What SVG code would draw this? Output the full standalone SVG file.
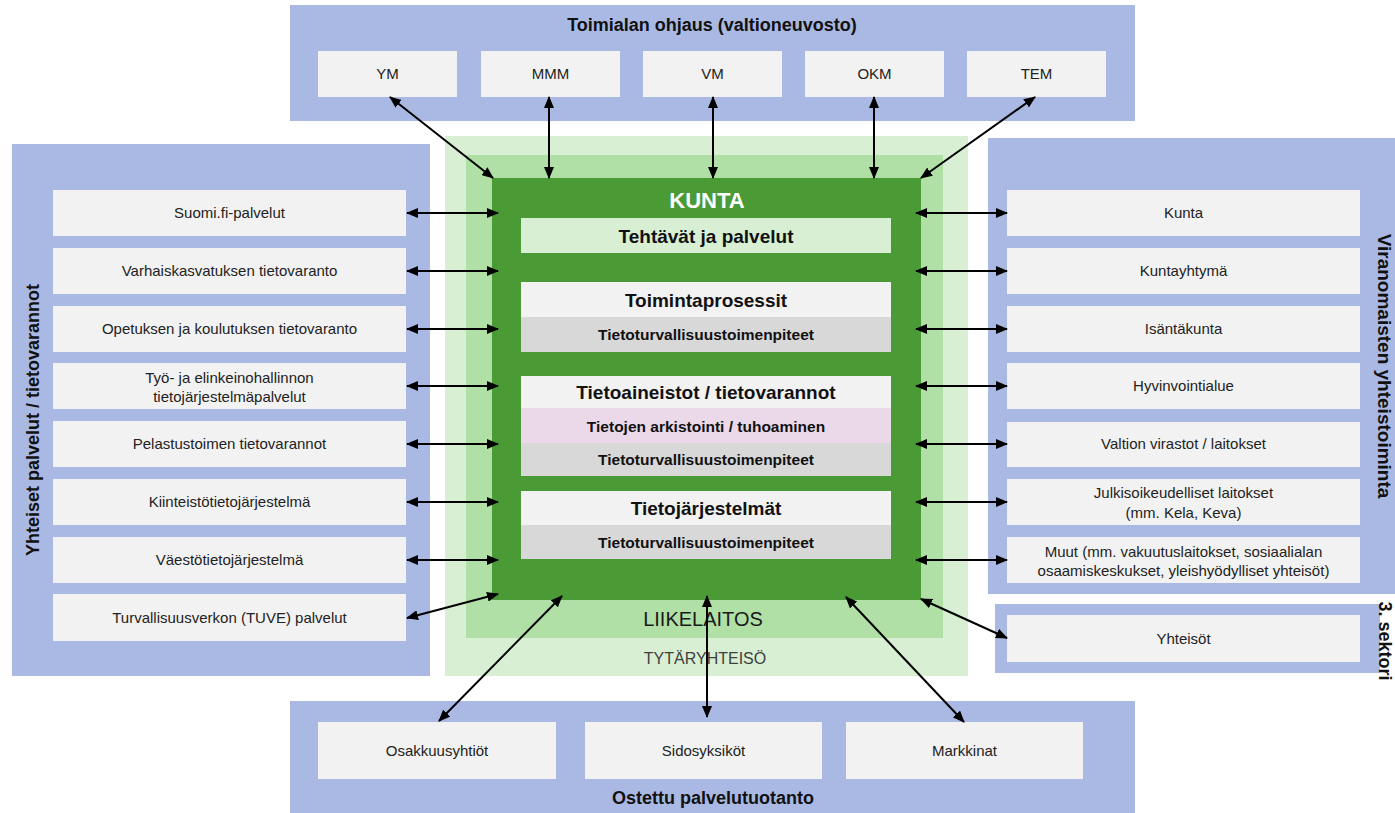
<svg xmlns="http://www.w3.org/2000/svg" width="1395" height="813" viewBox="0 0 1395 813">
<style>
.panel{fill:#AAB9E3}
.box{fill:#F2F2F2}
.t{font-family:"Liberation Sans",Arial,sans-serif;font-size:15px;fill:#222;text-anchor:middle}
.h{font-family:"Liberation Sans",Arial,sans-serif;font-size:18px;font-weight:bold;fill:#111;text-anchor:middle}
.b{font-family:"Liberation Sans",Arial,sans-serif;font-weight:bold;fill:#111;text-anchor:middle}
.arr{stroke:#000;stroke-width:2;fill:none;marker-start:url(#ah);marker-end:url(#ah)}
</style>
<defs>
<marker id="ah" viewBox="0 0 12 10" refX="11" refY="5" markerWidth="12" markerHeight="10" markerUnits="userSpaceOnUse" orient="auto-start-reverse">
<path d="M0,0 L12,5 L0,10 z" fill="#000"/>
</marker>
</defs>
<rect width="1395" height="813" fill="#fff"/>

<g id="toimialan-ohjaus">
<rect class="panel" x="290" y="5" width="845" height="116"/>
<text class="h" x="712" y="31">Toimialan ohjaus (valtioneuvosto)</text>
<g id="ym"><rect class="box" x="318" y="51" width="139" height="46"/><text class="t" x="387.5" y="79">YM</text></g>
<g id="mmm"><rect class="box" x="481" y="51" width="139" height="46"/><text class="t" x="550.5" y="79">MMM</text></g>
<g id="vm"><rect class="box" x="643" y="51" width="139" height="46"/><text class="t" x="712.5" y="79">VM</text></g>
<g id="okm"><rect class="box" x="805" y="51" width="139" height="46"/><text class="t" x="874.5" y="79">OKM</text></g>
<g id="tem"><rect class="box" x="967" y="51" width="139" height="46"/><text class="t" x="1036.5" y="79">TEM</text></g>
</g>

<g id="yhteiset-palvelut">
<rect class="panel" x="12" y="144" width="418" height="532"/>
<text class="b" font-size="18" transform="translate(39,420) rotate(-90)">Yhteiset palvelut / tietovarannot</text>
<g id="suomifi"><rect class="box" x="53" y="190" width="353" height="46"/><text class="t" x="229.5" y="218">Suomi.fi-palvelut</text></g>
<g id="varhais"><rect class="box" x="53" y="248" width="353" height="46"/><text class="t" x="229.5" y="276">Varhaiskasvatuksen tietovaranto</text></g>
<g id="opetus"><rect class="box" x="53" y="306" width="353" height="46"/><text class="t" x="229.5" y="334">Opetuksen ja koulutuksen tietovaranto</text></g>
<g id="tyo"><rect class="box" x="53" y="363" width="353" height="46"/><text class="t" x="229.5" y="383">Työ- ja elinkeinohallinnon</text><text class="t" x="229.5" y="402">tietojärjestelmäpalvelut</text></g>
<g id="pelastus"><rect class="box" x="53" y="421" width="353" height="46"/><text class="t" x="229.5" y="449">Pelastustoimen tietovarannot</text></g>
<g id="kiinteisto"><rect class="box" x="53" y="479" width="353" height="46"/><text class="t" x="229.5" y="507">Kiinteistötietojärjestelmä</text></g>
<g id="vaesto"><rect class="box" x="53" y="537" width="353" height="46"/><text class="t" x="229.5" y="565">Väestötietojärjestelmä</text></g>
<g id="tuve"><rect class="box" x="53" y="594" width="353" height="47"/><text class="t" x="229.5" y="623">Turvallisuusverkon (TUVE) palvelut</text></g>
</g>

<g id="viranomaiset">
<rect class="panel" x="988" y="138" width="407" height="456"/>
<text class="b" font-size="19" transform="translate(1378,366) rotate(90)">Viranomaisten yhteistoiminta</text>
<g id="kunta-r"><rect class="box" x="1007" y="190" width="353" height="46"/><text class="t" x="1183.5" y="218">Kunta</text></g>
<g id="kuntayhtyma"><rect class="box" x="1007" y="248" width="353" height="46"/><text class="t" x="1183.5" y="276">Kuntayhtymä</text></g>
<g id="isantakunta"><rect class="box" x="1007" y="306" width="353" height="46"/><text class="t" x="1183.5" y="334">Isäntäkunta</text></g>
<g id="hyvinvointialue"><rect class="box" x="1007" y="363" width="353" height="46"/><text class="t" x="1183.5" y="391">Hyvinvointialue</text></g>
<g id="valtion"><rect class="box" x="1007" y="422" width="353" height="45"/><text class="t" x="1183.5" y="449">Valtion virastot / laitokset</text></g>
<g id="julkis"><rect class="box" x="1007" y="479" width="353" height="46"/><text class="t" x="1183.5" y="498">Julkisoikeudelliset laitokset</text><text class="t" x="1183.5" y="518">(mm. Kela, Keva)</text></g>
<g id="muut"><rect class="box" x="1007" y="537" width="353" height="46"/><text class="t" x="1183.5" y="557">Muut (mm. vakuutuslaitokset, sosiaalialan</text><text class="t" x="1183.5" y="576">osaamiskeskukset, yleishyödylliset yhteisöt)</text></g>
</g>

<g id="kolmas-sektori">
<rect class="panel" x="995" y="604" width="385" height="69"/>
<text class="b" font-size="18" transform="translate(1379,641) rotate(90)">3. sektori</text>
<g id="yhteisot"><rect class="box" x="1007" y="615" width="353" height="47"/><text class="t" x="1183.5" y="644">Yhteisöt</text></g>
</g>

<g id="ostettu">
<rect class="panel" x="290" y="701" width="845" height="112"/>
<text class="h" x="713" y="804">Ostettu palvelutuotanto</text>
<g id="osakkuus"><rect class="box" x="318" y="722" width="238" height="57"/><text class="t" x="437" y="756">Osakkuusyhtiöt</text></g>
<g id="sidos"><rect class="box" x="585" y="722" width="237" height="57"/><text class="t" x="703.5" y="756">Sidosyksiköt</text></g>
<g id="markkinat"><rect class="box" x="846" y="722" width="237" height="57"/><text class="t" x="964.5" y="756">Markkinat</text></g>
</g>

<g id="tytaryhteiso">
<rect x="445" y="136" width="523" height="540" fill="#D8EFD3"/>
<text class="t" x="705" y="664" style="fill:#404040;font-size:16px">TYTÄRYHTEISÖ</text>
</g>
<g id="liikelaitos">
<rect x="466" y="155" width="477" height="483" fill="#B0E0A6"/>
<text class="t" x="703" y="626" style="font-size:20px;fill:#1a1a1a">LIIKELAITOS</text>
</g>
<g id="kunta">
<rect x="492" y="178" width="429" height="422" fill="#4A9A36"/>
<text class="b" x="707" y="208" font-size="22" style="fill:#fff">KUNTA</text>
<g id="tehtavat"><rect x="521" y="218" width="370" height="35" fill="#D8EFD3"/><text class="b" x="706" y="243" font-size="19">Tehtävät ja palvelut</text></g>
<g id="toimintaprosessit">
<rect x="521" y="282" width="370" height="35" fill="#F2F2F2"/>
<rect x="521" y="317" width="370" height="35" fill="#D8D8D8"/>
<text class="b" x="706" y="307" font-size="19">Toimintaprosessit</text>
<text class="b" x="706" y="340" font-size="15.5">Tietoturvallisuustoimenpiteet</text>
</g>
<g id="tietoaineistot">
<rect x="521" y="376" width="370" height="32" fill="#F2F2F2"/>
<rect x="521" y="408" width="370" height="35" fill="#EBD9EA"/>
<rect x="521" y="443" width="370" height="33" fill="#D8D8D8"/>
<text class="b" x="706" y="399" font-size="19">Tietoaineistot / tietovarannot</text>
<text class="b" x="706" y="432" font-size="15.5">Tietojen arkistointi / tuhoaminen</text>
<text class="b" x="706" y="465" font-size="15.5">Tietoturvallisuustoimenpiteet</text>
</g>
<g id="tietojarjestelmat">
<rect x="521" y="491" width="370" height="34" fill="#F2F2F2"/>
<rect x="521" y="525" width="370" height="34" fill="#D8D8D8"/>
<text class="b" x="706" y="515" font-size="19">Tietojärjestelmät</text>
<text class="b" x="706" y="548" font-size="15.5">Tietoturvallisuustoimenpiteet</text>
</g>
</g>

<g id="connectors">
<line class="arr" x1="390" y1="97" x2="493" y2="178"/>
<line class="arr" x1="549" y1="97" x2="549" y2="178"/>
<line class="arr" x1="713" y1="97" x2="713" y2="178"/>
<line class="arr" x1="874" y1="97" x2="874" y2="178"/>
<line class="arr" x1="1035" y1="97" x2="921" y2="178"/>
<line class="arr" x1="407" y1="213" x2="498" y2="213"/>
<line class="arr" x1="407" y1="271" x2="498" y2="271"/>
<line class="arr" x1="407" y1="329" x2="498" y2="329"/>
<line class="arr" x1="407" y1="386" x2="498" y2="386"/>
<line class="arr" x1="407" y1="444" x2="498" y2="444"/>
<line class="arr" x1="407" y1="502" x2="498" y2="502"/>
<line class="arr" x1="407" y1="560" x2="498" y2="560"/>
<line class="arr" x1="407" y1="618" x2="498" y2="594"/>
<line class="arr" x1="916" y1="213" x2="1007" y2="213"/>
<line class="arr" x1="916" y1="271" x2="1007" y2="271"/>
<line class="arr" x1="916" y1="329" x2="1007" y2="329"/>
<line class="arr" x1="916" y1="386" x2="1007" y2="386"/>
<line class="arr" x1="916" y1="444" x2="1007" y2="444"/>
<line class="arr" x1="916" y1="502" x2="1007" y2="502"/>
<line class="arr" x1="916" y1="560" x2="1007" y2="560"/>
<line class="arr" x1="921" y1="599" x2="1007" y2="638"/>
<line class="arr" x1="562" y1="596" x2="439" y2="721"/>
<line class="arr" x1="707" y1="596" x2="707" y2="717"/>
<line class="arr" x1="846" y1="597" x2="964" y2="722"/>
</g>
</svg>
